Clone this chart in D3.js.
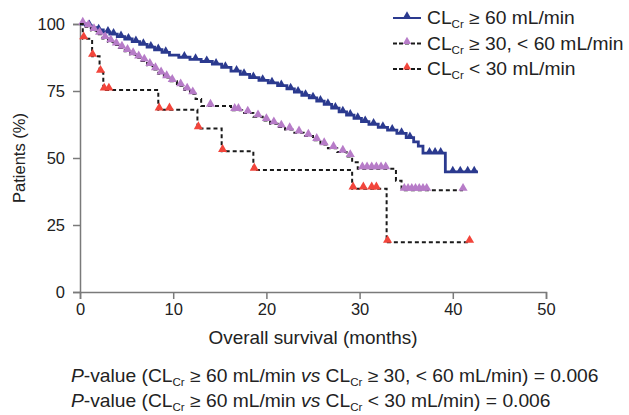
<!DOCTYPE html>
<html>
<head>
<meta charset="utf-8">
<script src="https://cdn.jsdelivr.net/npm/d3@7"></script>
<style>
  body { margin: 0; background: #fff; }
  text { font-family: "Liberation Sans", Arial, sans-serif; }
</style>
</head>
<body>
<div id="wrapper"></div>
<script>
// Kaplan-Meier steps: [month, % patients]
const stepsHigh = [[0,100],[0.6,99.4],[1.2,98.6],[1.8,97.8],[2.5,97],[3.2,96.2],[4,95.3],[4.8,94.4],[5.6,93.4],[6.4,92.4],[7.2,91.4],[8,90.4],[8.8,89.4],[9.6,88.4],[10.6,87.6],[11.8,86.8],[13,86],[14.2,85],[15.2,83.8],[16.2,82.4],[17.2,81.2],[18.2,80],[19.2,79],[20.2,78],[21.2,77],[22.2,75.8],[23,74.6],[23.8,73.4],[24.6,72.4],[25.4,71.2],[26.2,70],[27,68.6],[27.8,67.2],[28.6,66],[29.4,64.8],[30.2,63.6],[31,62.6],[32,61.4],[33,60.4],[34,59.2],[35,57.6],[35.8,56],[36.3,54.4],[36.8,51.8],[39.2,44.8]]
const endHigh = 42.7
const censorHigh = [1,2,3,3.6,4.4,5.2,6,6.8,7.6,8.4,9.2,11.2,12.4,13.6,14.6,15.6,16.8,17.6,18.6,19.6,20.6,21.6,22.6,23.4,24.2,25,25.8,26.6,27.4,28.2,29,29.8,30.6,31.5,32.5,33.5,34.5,35.4,37.5,38.1,38.7,40,40.8,41.6,42.3]

const stepsMid = [[0,100],[0.6,99],[1.2,97.6],[1.8,96.2],[2.4,94.6],[3,93.4],[3.6,92.2],[4.2,91],[4.8,89.8],[5.4,88.6],[6,87.4],[6.6,86.2],[7.2,84.6],[7.8,83],[8.4,81.4],[9,80],[9.6,78.6],[10.4,77],[11.2,75.4],[11.8,74],[12.4,72],[13,69.4],[16.2,67.8],[17.4,66.8],[18.6,65.4],[19.6,64],[20.4,62.8],[21.2,61.6],[22,60.6],[23,59.4],[24,58.2],[25,56.6],[25.8,55],[26.6,53.6],[27.6,52.2],[28.6,50.6],[29.2,48.4],[29.8,46],[33.9,41.5],[34.5,38]]
const endMid = 41.1
const censorMid = [0.3,0.9,1.5,2.1,2.7,3.3,3.9,4.5,5.1,5.7,6.3,6.9,7.5,8.1,8.7,9.3,9.9,10.8,11.5,12.1,14,16.6,17,18,19.1,20,20.8,21.6,22.5,23.5,24.5,25.4,26.2,27.2,28.2,29,30.3,30.8,31.3,31.8,32.3,32.8,34.8,35.2,35.6,36,36.4,36.8,37.2,41.1]

const stepsLow = [[0,100],[0.3,94.5],[1.3,88],[2.1,82],[2.5,75.4],[8.4,68],[12.6,61],[15.2,52.5],[18.6,45.5],[29.2,38.5],[32.9,18.6]]
const endLow = 41.8
const censorLow = [0.4,1.35,2.2,2.6,3.1,8.5,9.6,12.7,15.3,18.7,29.3,30.4,31.3,31.8,33,41.8]

const xTicks = [0,10,20,30,40,50]
const yTicks = [0,25,50,75,100]
const legendLabels = ["≥ 60 mL/min", "≥ 30, < 60 mL/min", "< 30 mL/min"]

const series = [
  {steps: stepsHigh, end: endHigh, censor: censorHigh, line: "#2b3a8f", mark: "#2b3a8f", dash: null, width: 2.8, size: 22},
  {steps: stepsMid, end: endMid, censor: censorMid, line: "#1a1a1a", mark: "#b77cc8", dash: "4,3", width: 2, size: 36},
  {steps: stepsLow, end: endLow, censor: censorLow, line: "#1a1a1a", mark: "#f2453b", dash: "4,3", width: 2, size: 36}
]

const dimensions = {width: 629, height: 415}
const stretch = 1.08  // the figure's lettering is a little wider than Arial

const svg = d3.select("#wrapper").append("svg")
  .attr("width", dimensions.width)
  .attr("height", dimensions.height)
  .style("background", "#fff")

const xScale = d3.scaleLinear().domain([0, 50]).range([80, 546])
const yScale = d3.scaleLinear().domain([0, 100]).range([292, 24])

const survAt = (steps, t) => {
  const i = d3.bisectRight(steps.map(d => d[0]), t) - 1
  return steps[Math.max(i, 0)][1]
}

const lineGen = d3.line()
  .x(d => xScale(d[0]))
  .y(d => yScale(d[1]))
  .curve(d3.curveStepAfter)

// axes
const xAxis = svg.append("g")
  .attr("transform", `translate(0, ${yScale(0)})`)
  .call(d3.axisBottom(xScale).tickValues(xTicks).tickSizeOuter(0).tickSize(7).tickPadding(4))
const yAxis = svg.append("g")
  .attr("transform", `translate(${xScale(0)}, 0)`)
  .call(d3.axisLeft(yScale).tickValues(yTicks).tickSizeOuter(0).tickSize(7).tickPadding(8))

;[xAxis, yAxis].forEach(ax => {
  ax.selectAll("path, line").attr("stroke", "#7a7a7a").attr("stroke-width", 1.5)
  ax.selectAll("text").attr("fill", "#222").style("font-size", "16.5px")
    .style("font-family", '"Liberation Sans", Arial, sans-serif')
})

svg.append("text")
  .attr("transform", `translate(${(xScale(0) + xScale(50)) / 2}, 344) scale(${stretch}, 1)`)
  .attr("text-anchor", "middle")
  .attr("fill", "#222")
  .style("font-size", "17.5px")
  .text("Overall survival (months)")

svg.append("text")
  .attr("transform", `translate(25, ${(yScale(0) + yScale(100)) / 2}) rotate(-90)`)
  .attr("text-anchor", "middle")
  .attr("fill", "#222")
  .style("font-size", "16.5px")
  .text("Patients (%)")

// curves
series.forEach(s => {
  const pts = s.steps.concat([[s.end, s.steps[s.steps.length - 1][1]]])
  svg.append("path")
    .attr("d", lineGen(pts))
    .attr("fill", "none")
    .attr("stroke", s.line)
    .attr("stroke-width", s.width)
    .attr("stroke-dasharray", s.dash)

  const sym = d3.symbol().type(d3.symbolTriangle).size(s.size)
  svg.append("g").selectAll("path")
    .data(s.censor)
    .join("path")
    .attr("d", sym)
    .attr("transform", t => `translate(${xScale(t)}, ${yScale(survAt(s.steps, t)) - 2})`)
    .attr("fill", s.mark)
})

// legend
const legend = svg.append("g")
legendLabels.forEach((lab, i) => {
  const y = 18 + i * 25.5
  const s = series[i]
  legend.append("line")
    .attr("x1", 393).attr("x2", 421).attr("y1", y).attr("y2", y)
    .attr("stroke", s.line).attr("stroke-width", 2)
    .attr("stroke-dasharray", i === 0 ? null : "4,2")
  legend.append("path")
    .attr("d", d3.symbol().type(d3.symbolTriangle).size(30))
    .attr("transform", `translate(407, ${y - 2})`)
    .attr("fill", s.mark)
  const t = legend.append("text")
    .attr("transform", `translate(427, ${y + 6}) scale(1.1, 1)`)
    .attr("fill", "#222")
    .style("font-size", "17.5px")
  t.append("tspan").text("CL")
  t.append("tspan").attr("dy", 4).style("font-size", "10.5px").text("Cr")
  t.append("tspan").attr("dy", -4).text(" " + lab)
})

// p-values
const pLines = [
  [" ≥ 60 mL/min ", " ≥ 30, < 60 mL/min) = 0.006"],
  [" ≥ 60 mL/min ", " < 30 mL/min) = 0.006"]
]
pLines.forEach((p, i) => {
  const t = svg.append("text")
    .attr("transform", `translate(71, ${382 + i * 25}) scale(1.1, 1)`)
    .attr("fill", "#222")
    .style("font-size", "17.5px")
  t.append("tspan").style("font-style", "italic").text("P")
  t.append("tspan").text("-value (CL")
  t.append("tspan").attr("dy", 4).style("font-size", "10.5px").text("Cr")
  t.append("tspan").attr("dy", -4).text(p[0])
  t.append("tspan").style("font-style", "italic").text("vs")
  t.append("tspan").text(" CL")
  t.append("tspan").attr("dy", 4).style("font-size", "10.5px").text("Cr")
  t.append("tspan").attr("dy", -4).text(p[1])
})
</script>
</body>
</html>
